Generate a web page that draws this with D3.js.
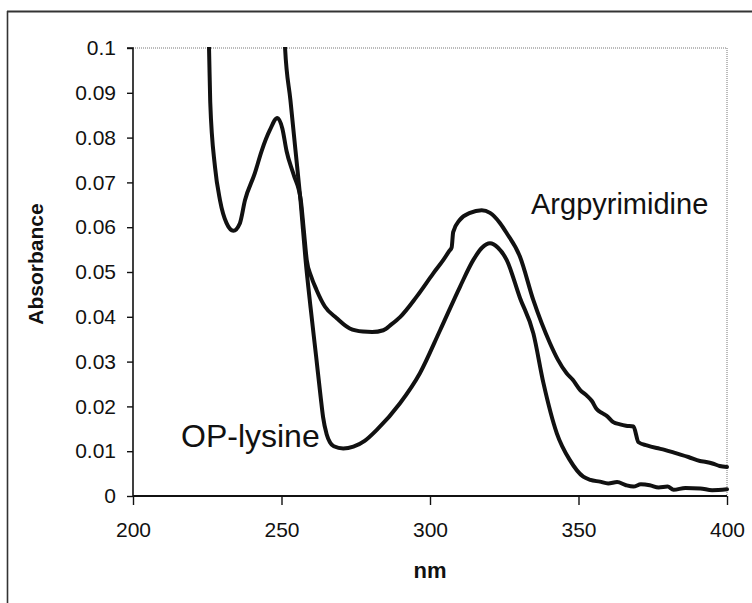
<!DOCTYPE html>
<html>
<head>
<meta charset="utf-8">
<script src="https://cdn.jsdelivr.net/npm/d3@7"></script>
<style>
  html, body { margin: 0; padding: 0; background: #fff; }
  svg { display: block; font-family: "Liberation Sans", Arial, sans-serif; }
</style>
</head>
<body>
<svg id="chart" width="752" height="603"></svg>
<script>
// ---------------- data ----------------
const argNm = [225.2, 225.6, 226.0, 227.6, 229.3, 231.5, 233.8, 236.0, 237.7, 241.0, 243.3, 246.1, 248.6,
  250.3, 251.7, 254.1, 256.5, 257.5, 258.5, 260.0, 261.8, 264.6, 268.6, 273.0, 277.4, 280.5, 284.3, 287.0,
  290.0, 295.5, 301.1, 304.5, 306.5, 307.3, 307.8, 310.0, 313.5, 317.4, 320.2, 323.6, 325.8, 330.3, 334.8,
  340.4, 343.0, 346.0, 348.0, 350.5, 352.8, 354.5, 356.1, 358.0, 359.5, 361.7, 364.0, 366.0, 368.5,
  370.2, 373.0, 376.3, 379.0, 383.0, 387.0, 390.9, 393.0, 395.4, 397.5, 400.0];
const argAbs = [0.106, 0.100, 0.088, 0.0735, 0.066, 0.0609, 0.0592, 0.0609, 0.066, 0.072, 0.077, 0.0817, 0.0844,
  0.082, 0.077, 0.0717, 0.066, 0.0594, 0.0527, 0.049, 0.046, 0.0423, 0.0397, 0.0374, 0.0367, 0.0366, 0.037, 0.0383,
  0.040, 0.0445, 0.0497, 0.0527, 0.0547, 0.0555, 0.0589, 0.0616, 0.0632, 0.0638, 0.0632, 0.0609, 0.0587, 0.0534, 0.0437,
  0.0341, 0.0305, 0.0274, 0.0260, 0.0237, 0.0224, 0.0212, 0.0194, 0.0185, 0.0179, 0.0165, 0.0160, 0.0157, 0.0155,
  0.0120, 0.0113, 0.0107, 0.0103, 0.0095, 0.0087, 0.0078, 0.0076, 0.0072, 0.0067, 0.0065];

const opNm = [250.9, 251.2, 253.0, 254.7, 256.4, 258.1, 259.8, 261.6, 263.2, 264.0, 265.2, 266.3, 267.6, 270.8, 274.2, 278.0, 282.0,
  289.9, 296.6, 303.4, 310.1, 314.6, 317.5, 320.2, 322.9, 325.8, 330.3, 334.8, 338.2, 342.7, 347.1, 351.6, 354.0,
  357.2, 360.0, 363.0, 366.0, 368.5, 371.0, 374.0, 377.0, 380.0, 382.0, 386.0, 391.0, 395.0, 400.0];
const opAbs = [0.104, 0.100, 0.0884, 0.0772, 0.066, 0.0527, 0.042, 0.0315, 0.022, 0.0176, 0.0138, 0.0120, 0.0111, 0.0106, 0.011, 0.0123, 0.0147,
  0.0207, 0.0274, 0.037, 0.0467, 0.0527, 0.0554, 0.0564, 0.0554, 0.0527, 0.0442, 0.0363, 0.0252, 0.014, 0.008, 0.0043, 0.0036,
  0.0032, 0.0028, 0.0031, 0.0024, 0.0021, 0.0026, 0.0024, 0.0019, 0.0021, 0.0014, 0.0018, 0.0017, 0.0013, 0.0015];

const xTicks = [200, 250, 300, 350, 400];
const yTicks = [0, 0.01, 0.02, 0.03, 0.04, 0.05, 0.06, 0.07, 0.08, 0.09, 0.1];
const yTickLabels = ["0", "0.01", "0.02", "0.03", "0.04", "0.05", "0.06", "0.07", "0.08", "0.09", "0.1"];
const seriesNames = ["Argpyrimidine", "OP-lysine"];
const xTitle = "nm";
const yTitle = "Absorbance";

// ---------------- drawing ----------------
const svg = d3.select("#chart");
const x = d3.scaleLinear().domain([200, 400]).range([133, 727]);
const y = d3.scaleLinear().domain([0, 0.1]).range([496, 48]);

// outer frame
svg.append("line").attr("x1", 7.5).attr("x2", 7.5).attr("y1", 11).attr("y2", 603)
  .attr("stroke", "#333").attr("stroke-width", 1.6);
svg.append("line").attr("x1", 7).attr("x2", 752).attr("y1", 11.5).attr("y2", 11.5)
  .attr("stroke", "#333").attr("stroke-width", 1.8);

// dotted plot-area frame (top & right)
svg.append("path")
  .attr("d", `M${x(200)},${y(0.1)}H${x(400)}V${y(0)}`)
  .attr("fill", "none").attr("stroke", "#777").attr("stroke-width", 1)
  .attr("stroke-dasharray", "1,1");

// clip
svg.append("clipPath").attr("id", "plotclip").append("rect")
  .attr("x", x(200)).attr("y", y(0.1) - 1).attr("width", x(400) - x(200) + 2).attr("height", y(0) - y(0.1) + 1);

// y axis
const yAxis = d3.axisLeft(y).tickValues(yTicks).tickSize(6).tickPadding(11)
  .tickFormat((d, i) => yTickLabels[i]);
const gy = svg.append("g").attr("transform", `translate(${x(200)},0)`).call(yAxis);
gy.select(".domain").attr("d", `M-6,${y(0.1)}H0V${y(0)}`).attr("stroke", "#111").attr("stroke-width", 1.6);
gy.selectAll(".tick line").attr("stroke", "#111").attr("stroke-width", 1.4);
gy.selectAll(".tick text").attr("font-size", 21).attr("fill", "#111")
  .attr("font-family", "'Liberation Sans', Arial, sans-serif");

// x axis
const xAxis = d3.axisBottom(x).tickValues(xTicks).tickSize(9).tickPadding(17).tickFormat(d3.format("d"));
const gx = svg.append("g").attr("transform", `translate(0,${y(0)})`).call(xAxis);
gx.select(".domain").attr("d", `M${x(200)},0H${x(400)}`).attr("stroke", "#111").attr("stroke-width", 1.8);
gx.selectAll(".tick line").attr("stroke", "#111").attr("stroke-width", 1.4);
gx.selectAll(".tick text").attr("font-size", 21).attr("fill", "#111")
  .attr("font-family", "'Liberation Sans', Arial, sans-serif");

// axis titles
svg.append("text").attr("x", 430).attr("y", 578).attr("text-anchor", "middle")
  .attr("font-size", 22).attr("font-weight", "bold").attr("fill", "#111").text(xTitle);
svg.append("text").attr("transform", "translate(43,264) rotate(-90)").attr("text-anchor", "middle")
  .attr("font-size", 21).attr("font-weight", "bold").attr("fill", "#111").text(yTitle);

// curves
const line = d3.line().x(d => x(d[0])).y(d => y(d[1])).curve(d3.curveMonotoneX);
const argData = d3.zip(argNm, argAbs);
const opData = d3.zip(opNm, opAbs);
const gCurves = svg.append("g").attr("clip-path", "url(#plotclip)");
[argData, opData].forEach(dat => {
  gCurves.append("path").datum(dat).attr("d", line)
    .attr("fill", "none").attr("stroke", "#111").attr("stroke-width", 4)
    .attr("stroke-linejoin", "round").attr("stroke-linecap", "round");
});

// series labels
svg.append("text").attr("x", 531).attr("y", 214).attr("font-size", 29).attr("fill", "#111").text(seriesNames[0]);
svg.append("text").attr("x", 181).attr("y", 447).attr("font-size", 32).attr("fill", "#111").text(seriesNames[1]);
</script>
</body>
</html>
